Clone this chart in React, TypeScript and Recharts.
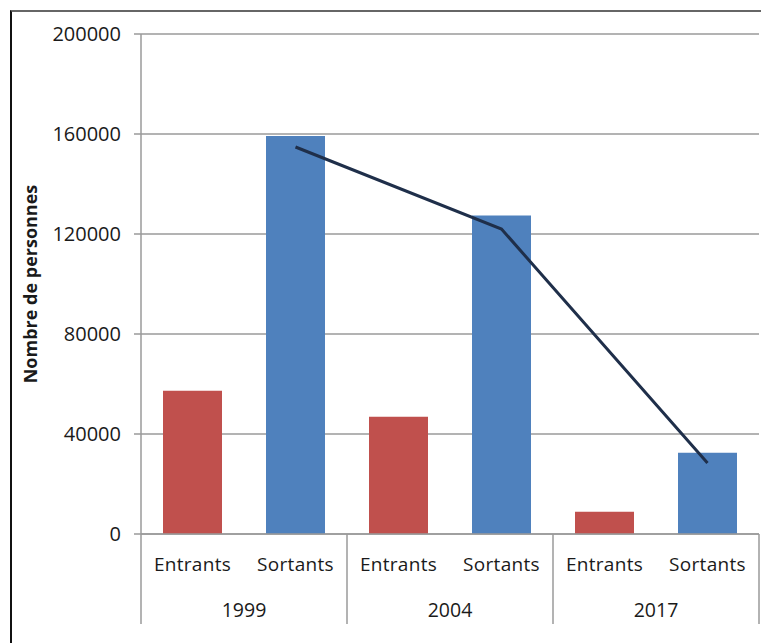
import {ComposedChart, Bar, Line, XAxis, YAxis, CartesianGrid, Cell, Label} from "recharts";

const years = ["1999", "2004", "2017"];
const flows = ["Entrants", "Sortants"];
const personnes = [57300, 159200, 46900, 127400, 8900, 32500];
const tendance = [null, 154800, null, 122000, null, 28400];
const yTicks = [0, 40000, 80000, 120000, 160000, 200000];

const flowColors: Record<string, string> = {Entrants: "#C0504D", Sortants: "#4F81BD"};

const data = personnes.map((v, i) => ({
  key: i,
  flux: flows[i % 2],
  annee: years[Math.floor(i / 2)],
  personnes: v,
  tendance: tendance[i],
}));

const W = 761;
const H = 643;
const MARGIN = {top: 34, right: 2, bottom: 19, left: 0};
const Y_W = 141;
const X_H = 90;
const BAND = (W - MARGIN.left - MARGIN.right - Y_W) / data.length;

const FONT = "'Open Sans', sans-serif";
const AXIS = "#9a9a9a";
const INK = "#1a1a1a";

function FluxTick(props: any) {
  const {x, y, index, payload} = props;
  const half = BAND / 2;
  const row = data[index];
  return (
    <g>
      <text
        x={x}
        y={y + 37}
        textAnchor="middle"
        fontSize={19}
        letterSpacing={0.3}
        fontFamily={FONT}
        fill={INK}
      >
        {payload.value}
      </text>
      {index % 2 === 0 && (
        <>
          <line x1={x - half} x2={x - half} y1={y} y2={y + X_H} stroke={AXIS} strokeWidth={1.5} />
          <text x={x + half} y={y + 83} textAnchor="middle" fontSize={19.5} fontFamily={FONT} fill={INK}>
            {row.annee}
          </text>
        </>
      )}
      {index === data.length - 1 && (
        <line x1={x + half} x2={x + half} y1={y} y2={y + X_H} stroke={AXIS} strokeWidth={1.5} />
      )}
    </g>
  );
}

export default function App() {
  return (
    <div style={{position: "absolute", left: 0, top: 0, width: W, height: H, overflow: "hidden", background: "#fff"}}>
      <div
        style={{
          position: "absolute",
          left: 10,
          top: 10,
          width: 780,
          height: 660,
          borderLeft: "2px solid #111",
          borderTop: "2px solid #666",
        }}
      />
      <div style={{position: "absolute", left: 0, top: 0}}>
        <ComposedChart width={W} height={H} data={data} margin={MARGIN}>
          <CartesianGrid vertical={false} stroke={AXIS} strokeWidth={1.5} />
          <XAxis
            dataKey="flux"
            height={X_H}
            tickLine={false}
            tickSize={0}
            tickMargin={0}
            axisLine={{stroke: AXIS, strokeWidth: 1.5}}
            tick={<FluxTick />}
            interval={0}
          />
          <YAxis
            width={Y_W}
            domain={[0, 200000]}
            ticks={yTicks}
            interval={0}
            tickSize={7}
            tickMargin={13}
            tickLine={{stroke: AXIS, strokeWidth: 1.5}}
            axisLine={{stroke: AXIS, strokeWidth: 1.5}}
            tick={{fontSize: 20, fontFamily: FONT, fill: INK}}
          >
            <Label
              content={(p: any) => {
                const vb = p.viewBox || {x: 0, y: MARGIN.top, height: 500};
                const cx = vb.x + 30;
                const cy = vb.y + vb.height / 2;
                return (
                  <text
                    x={cx}
                    y={cy}
                    transform={`rotate(-90, ${cx}, ${cy})`}
                    textAnchor="middle"
                    dominantBaseline="central"
                    fontSize={18}
                    fontWeight="bold"
                    fontFamily={FONT}
                    fill={INK}
                  >
                    Nombre de personnes
                  </text>
                );
              }}
            />
          </YAxis>
          <Bar dataKey="personnes" barSize={59} isAnimationActive={false}>
            {data.map((d) => (
              <Cell key={d.key} fill={flowColors[d.flux]} />
            ))}
          </Bar>
          <Line
            dataKey="tendance"
            connectNulls
            stroke="#1F2F4A"
            strokeWidth={3}
            dot={false}
            activeDot={false}
            isAnimationActive={false}
          />
        </ComposedChart>
      </div>
    </div>
  );
}
